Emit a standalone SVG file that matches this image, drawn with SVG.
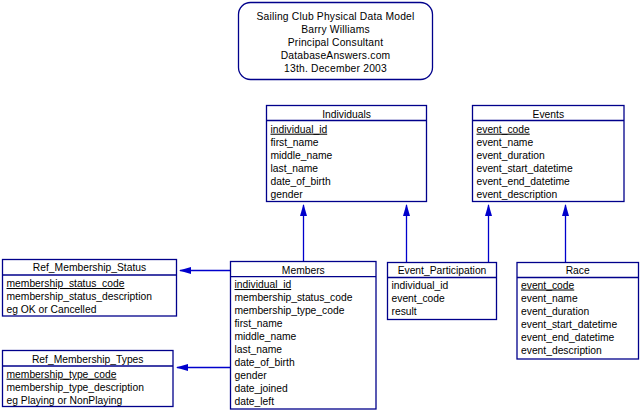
<svg xmlns="http://www.w3.org/2000/svg" width="641" height="411" viewBox="0 0 641 411">
<style>
  text { font-family: "Liberation Sans", Arial, sans-serif; font-size: 10.3px; fill: #000; }
  .c { text-anchor: middle; }
  .t { letter-spacing: 0.2px; }
  .pk { text-decoration: underline; }
  .box { fill: #fff; stroke: #00008B; stroke-width: 1.3; }
  .sep { stroke: #00008B; stroke-width: 1.3; }
  .ln { stroke: #0000CC; stroke-width: 1.3; fill: none; }
  .ah { fill: #0000CC; stroke: none; }
</style>
<rect width="641" height="411" fill="#fff"/>

<g id="title">
  <rect class="box" x="238.5" y="2.5" width="194" height="77" rx="12" ry="12"/>
  <text class="c t" x="335.5" y="19.7">Sailing Club Physical Data Model</text>
  <text class="c t" x="335.5" y="32.7">Barry Williams</text>
  <text class="c t" x="335.5" y="45.7">Principal Consultant</text>
  <text class="c t" x="335.5" y="58.7">DatabaseAnswers.com</text>
  <text class="c t" x="335.5" y="71.7">13th. December 2003</text>
</g>

<g id="connectors">
  <line class="ln" x1="303.5" y1="261.5" x2="303.5" y2="205"/>
  <polygon class="ah" points="303.5,204 300,216 307,216"/>
  <line class="ln" x1="406.5" y1="262.5" x2="406.5" y2="205"/>
  <polygon class="ah" points="406.5,204 403,216 410,216"/>
  <line class="ln" x1="488.5" y1="262.5" x2="488.5" y2="205"/>
  <polygon class="ah" points="488.5,204 485,216 492,216"/>
  <line class="ln" x1="565.5" y1="262.5" x2="565.5" y2="205"/>
  <polygon class="ah" points="565.5,204 562,216 569,216"/>
  <line class="ln" x1="230" y1="270.5" x2="180" y2="270.5"/>
  <polygon class="ah" points="179,270.5 191,267 191,274"/>
  <line class="ln" x1="230" y1="367.5" x2="177" y2="367.5"/>
  <polygon class="ah" points="176,367.5 188,364 188,371"/>
</g>

<g id="individuals">
  <rect class="box" x="266.5" y="105.5" width="160" height="96"/>
  <line class="sep" x1="266.5" y1="120.5" x2="426.5" y2="120.5"/>
  <text class="c" x="346.5" y="117.5">Individuals</text>
  <text class="pk" x="270.5" y="132.7">individual_id</text>
  <text x="270.5" y="145.7">first_name</text>
  <text x="270.5" y="158.7">middle_name</text>
  <text x="270.5" y="171.7">last_name</text>
  <text x="270.5" y="184.7">date_of_birth</text>
  <text x="270.5" y="197.7">gender</text>
</g>

<g id="events">
  <rect class="box" x="472.5" y="105.5" width="151.5" height="96"/>
  <line class="sep" x1="472.5" y1="120.5" x2="624" y2="120.5"/>
  <text class="c" x="548.3" y="117.5">Events</text>
  <text class="pk" x="476.5" y="132.7">event_code</text>
  <text x="476.5" y="145.7">event_name</text>
  <text x="476.5" y="158.7">event_duration</text>
  <text x="476.5" y="171.7">event_start_datetime</text>
  <text x="476.5" y="184.7">event_end_datetime</text>
  <text x="476.5" y="197.7">event_description</text>
</g>

<g id="ref_membership_status">
  <rect class="box" x="2.5" y="259.5" width="174" height="56.5"/>
  <line class="sep" x1="2.5" y1="275" x2="176.5" y2="275"/>
  <text class="c" x="89.5" y="271">Ref_Membership_Status</text>
  <text class="pk" x="6.5" y="287">membership_status_code</text>
  <text x="6.5" y="300">membership_status_description</text>
  <text x="6.5" y="313">eg OK or Cancelled</text>
</g>

<g id="ref_membership_types">
  <rect class="box" x="2.5" y="350.5" width="170.5" height="56"/>
  <line class="sep" x1="2.5" y1="366" x2="173" y2="366"/>
  <text class="c" x="87.7" y="362.5">Ref_Membership_Types</text>
  <text class="pk" x="6.5" y="377.7">membership_type_code</text>
  <text x="6.5" y="390.7">membership_type_description</text>
  <text x="6.5" y="403.7">eg Playing or NonPlaying</text>
</g>

<g id="members">
  <rect class="box" x="230.5" y="261.5" width="145.5" height="147.5"/>
  <line class="sep" x1="230.5" y1="276.7" x2="376" y2="276.7"/>
  <text class="c" x="303.3" y="273.5">Members</text>
  <text class="pk" x="234.5" y="288">individual_id</text>
  <text x="234.5" y="301">membership_status_code</text>
  <text x="234.5" y="314">membership_type_code</text>
  <text x="234.5" y="327">first_name</text>
  <text x="234.5" y="340">middle_name</text>
  <text x="234.5" y="353">last_name</text>
  <text x="234.5" y="366">date_of_birth</text>
  <text x="234.5" y="379">gender</text>
  <text x="234.5" y="392">date_joined</text>
  <text x="234.5" y="405">date_left</text>
</g>

<g id="event_participation">
  <rect class="box" x="387.5" y="262.5" width="109" height="57"/>
  <line class="sep" x1="387.5" y1="277.5" x2="496.5" y2="277.5"/>
  <text class="c" x="442" y="274">Event_Participation</text>
  <text x="391.5" y="288.5">individual_id</text>
  <text x="391.5" y="301.5">event_code</text>
  <text x="391.5" y="314.5">result</text>
</g>

<g id="race">
  <rect class="box" x="517" y="262.5" width="121.5" height="96.5"/>
  <line class="sep" x1="517" y1="277.5" x2="638.5" y2="277.5"/>
  <text class="c" x="577.7" y="274">Race</text>
  <text class="pk" x="521" y="288.5">event_code</text>
  <text x="521" y="301.5">event_name</text>
  <text x="521" y="314.5">event_duration</text>
  <text x="521" y="327.5">event_start_datetime</text>
  <text x="521" y="340.5">event_end_datetime</text>
  <text x="521" y="353.5">event_description</text>
</g>
</svg>
